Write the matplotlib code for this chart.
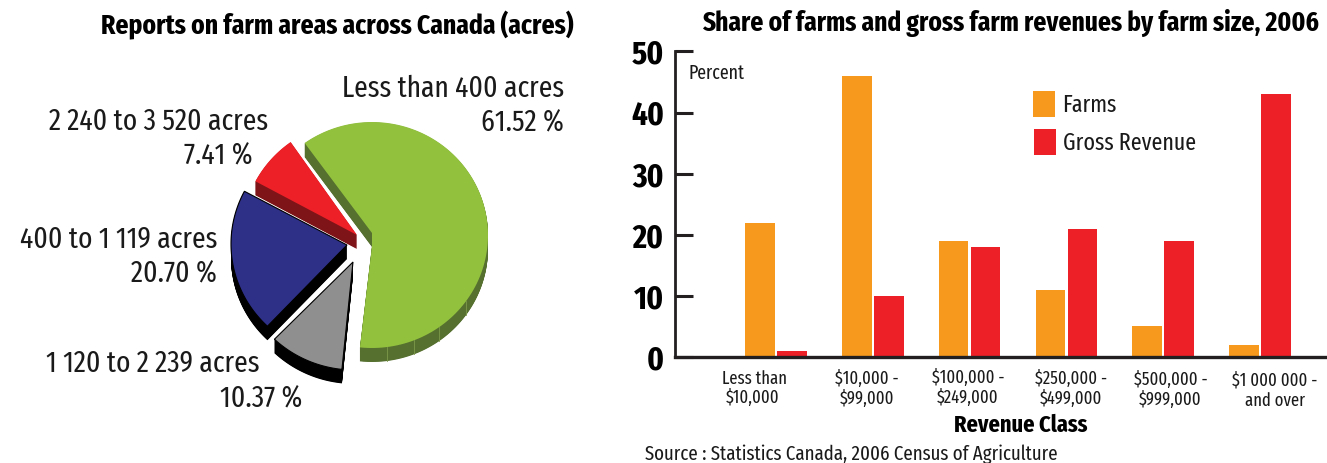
import numpy as np
import matplotlib
matplotlib.use("Agg")
import matplotlib.pyplot as plt
from matplotlib.patches import Polygon, Rectangle

W, H = 1327, 463
plt.rcParams['font.family'] = ['Fira Sans Extra Condensed', 'Archivo Narrow', 'Liberation Sans', 'DejaVu Sans']

# farm area shares, clockwise from the green slice
area_names = ["Less than 400 acres", "1 120 to 2 239 acres", "400 to 1 119 acres", "2 240 to 3 520 acres"]
area_shares = [61.52, 10.37, 20.70, 7.41]

revenue_classes = ["Less than\n$10,000", "$10,000 -\n$99,000", "$100,000 -\n$249,000",
                   "$250,000 -\n$499,000", "$500,000 -\n$999,000", "$1 000 000 -\nand over"]
farms = [22, 46, 19, 11, 5, 2]
gross_revenue = [1, 10, 18, 21, 19, 43]

ORANGE = '#f7991d'
RED = '#ee2027'
DARK = '#231f20'
TEXT = '#1a1a1a'

# one entry per slice: arc centre, inner corner points, face colour, side colour, outline colour
PIE_STYLE = [
    ((372, 235), [(372, 246), (372, 233)], '#92c13e', '#55702f', 'none'),
    ((354, 257), [(353, 262)], '#8f8f8f', '#000000', '#000000'),
    ((347, 244), [(347, 245)], '#2e3087', '#000000', '#000000'),
    ((358, 234), [(357, 235)], '#ee2027', '#7f1418', 'none'),
]
RX, RY = 116, 113
DEPTH = 14
START_ANGLE = 125.5
SEAM_ANGLES = [-82.6, -69, -54.7, -36]

# right edge and y of the name and value lines of each slice label
LABEL_POS = [((564, 89), (564, 123)), ((260, 364), (302, 399)),
             ((217, 240), (217, 274)), ((268, 122), (253, 156))]
# centre of each line of the revenue class labels
CLASS_LINE1 = [(755, 379), (867, 379), (968, 378), (1071, 379), (1171, 380), (1275, 380)]
CLASS_LINE2 = [(753, 398), (867, 399), (968, 398), (1071, 399), (1170, 400), (1275, 401)]


def slice_outline(centre, corners, a0, a1):
    ang = np.radians(np.linspace(a0, a1, 120))
    xs = centre[0] + RX * np.cos(ang)
    ys = centre[1] - RY * np.sin(ang)
    return np.vstack([np.column_stack([xs, ys]), corners])


fig = plt.figure(figsize=(W / 100, H / 100), dpi=100, facecolor='white')

# bar chart
left, right, top, bottom = 675, 1327, 51.5, 357
ax = fig.add_axes([left / W, 1 - bottom / H, (right - left) / W, (bottom - top) / H])
unit = 96.8
x = np.arange(len(farms))
bar_w = 29.5 / unit
ax.bar(x - 16 / unit, farms, bar_w, color=ORANGE, zorder=1)
ax.bar(x + 16 / unit, gross_revenue, bar_w, color=RED, zorder=1)
ax.set_xlim(-(776 - left) / unit, (right - 776) / unit)
ax.set_ylim(0, 50)
ax.set_xticks([])
ax.set_yticks([0, 10, 20, 30, 40, 50])
ax.tick_params(axis='y', direction='in', length=13, width=2.2, color=DARK, pad=8, labelsize=24)
for lab in ax.get_yticklabels():
    lab.set_fontweight('bold')
for s in ('top', 'right'):
    ax.spines[s].set_visible(False)
ax.spines['left'].set_linewidth(2)
ax.spines['left'].set_color(DARK)
ax.spines['bottom'].set_linewidth(2.4)
ax.spines['bottom'].set_color(DARK)
ax.patch.set_alpha(0)

# pixel-space layer for the pie and free text
ov = fig.add_axes([0, 0, 1, 1], zorder=5)
ov.set_xlim(0, W)
ov.set_ylim(H, 0)
ov.axis('off')

angle = START_ANGLE
for share, (centre, corners, face, side, edge) in zip(area_shares, PIE_STYLE):
    sweep = share / 100 * 360
    pts = slice_outline(centre, corners, angle, angle - sweep)
    for d in np.arange(DEPTH, 0, -0.5):
        ov.add_patch(Polygon(pts + [0, d], closed=True, fc=side, ec='none', zorder=2))
    ov.add_patch(Polygon(pts, closed=True, fc=face, ec=edge, lw=0.8, zorder=3))
    angle -= sweep

# facet seams on the green side wall
cx, cy = PIE_STYLE[0][0]
for a in SEAM_ANGLES:
    sx = cx + RX * np.cos(np.radians(a))
    sy = cy - RY * np.sin(np.radians(a))
    ov.plot([sx, sx], [sy, sy + DEPTH], color='#7d9a4a', lw=0.6, zorder=4)

for name, share, (p1, p2) in zip(area_names, area_shares, LABEL_POS):
    ov.text(p1[0], p1[1], name, ha='right', va='center', fontsize=21.5, color=TEXT)
    ov.text(p2[0], p2[1], f"{share:.2f} %", ha='right', va='center', fontsize=21.5, color=TEXT)

ov.text(337, 25, "Reports on farm areas across Canada (acres)", ha='center', va='center',
        fontsize=20, fontweight='bold', color='black')
ov.text(1011, 23, "Share of farms and gross farm revenues by farm size, 2006", ha='center', va='center',
        fontsize=19.9, fontweight='bold', color='black')

ov.text(689, 73, "Percent", ha='left', va='center', fontsize=14, color=TEXT)
ov.add_patch(Rectangle((1033, 91), 22, 26, fc=ORANGE, ec='none'))
ov.add_patch(Rectangle((1034, 129), 22, 26, fc=RED, ec='none'))
ov.text(1062, 105, "Farms", ha='left', va='center', fontsize=17.2, color=TEXT)
ov.text(1063, 143, "Gross Revenue", ha='left', va='center', fontsize=17.2, color=TEXT)

for label, p1, p2 in zip(revenue_classes, CLASS_LINE1, CLASS_LINE2):
    a, b = label.split("\n")
    ov.text(p1[0], p1[1], a, ha='center', va='center', fontsize=13, color=TEXT)
    ov.text(p2[0], p2[1], b, ha='center', va='center', fontsize=13, color=TEXT)

ov.text(1021, 425, "Revenue Class", ha='center', va='center', fontsize=17.5, fontweight='bold', color='black')
ov.text(645, 454, "Source : Statistics Canada, 2006 Census of Agriculture", ha='left', va='center',
        fontsize=14.8, color=TEXT)

fig.savefig("out.png", dpi=100)
